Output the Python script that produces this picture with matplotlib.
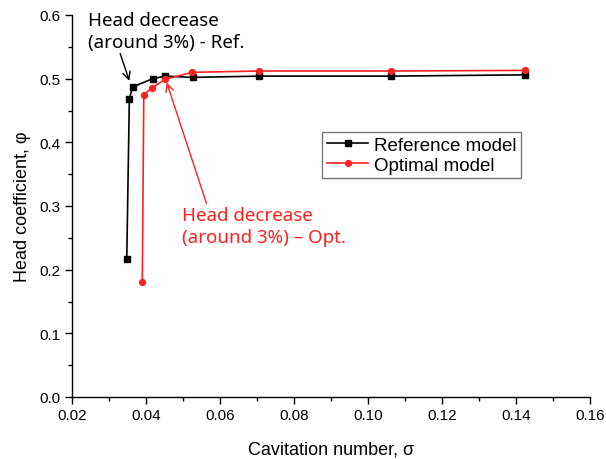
import matplotlib
matplotlib.use('Agg')
from matplotlib import pyplot as plt
from matplotlib.ticker import MultipleLocator

#%% Data
ref_sigma = [0.0348, 0.0355, 0.0364, 0.0418, 0.0452, 0.0526, 0.0705, 0.1063, 0.1423]
ref_psi   = [0.216, 0.468, 0.487, 0.500, 0.504, 0.502, 0.504, 0.504, 0.506]
opt_sigma = [0.0390, 0.0394, 0.0417, 0.0452, 0.0525, 0.0705, 0.1063, 0.1423]
opt_psi   = [0.180, 0.475, 0.486, 0.499, 0.510, 0.512, 0.512, 0.513]

red = '#ff2020'

#%% Plot
plt.rcParams['font.family'] = ['Liberation Sans', 'DejaVu Sans']
fig = plt.figure(figsize=(6.06, 4.6), dpi=100)
ax = fig.add_axes([72/606, 62/460, 518/606, 382/460])

ax.plot(ref_sigma, ref_psi, c='black', lw=1.2, marker='s', ms=4.2, label='Reference model')
ax.plot(opt_sigma, opt_psi, c=red, lw=1.2, marker='o', ms=4.2, label='Optimal model')

ax.set_xlim(0.02, 0.16)
ax.set_ylim(0.0, 0.6)
ax.xaxis.set_major_locator(MultipleLocator(0.02))
ax.xaxis.set_minor_locator(MultipleLocator(0.01))
ax.yaxis.set_major_locator(MultipleLocator(0.1))
ax.yaxis.set_minor_locator(MultipleLocator(0.05))
ax.xaxis.set_major_formatter(plt.FormatStrFormatter('%.2f'))
ax.yaxis.set_major_formatter(plt.FormatStrFormatter('%.1f'))
ax.tick_params(which='major', direction='out', length=5, width=1, labelsize=11, pad=3)
ax.tick_params(which='minor', direction='out', length=3, width=1)
for s in ['top', 'right']:
	ax.spines[s].set_visible(False)
for s in ['left', 'bottom']:
	ax.spines[s].set_linewidth(1)

ax.set_xlabel('Cavitation number, σ', fontsize=13, labelpad=13)
ax.set_ylabel('Head coefficient, φ', fontsize=13, labelpad=6)

leg = ax.legend(loc='upper left', bbox_to_anchor=(0.483, 0.694), fontsize=13.5, frameon=True,
	fancybox=False, edgecolor='#555555', handlelength=2.2, labelspacing=0.15,
	borderpad=0.25, handletextpad=0.3, borderaxespad=0)
leg.get_frame().set_linewidth(1)

# annotations for the head drop points
ax.annotate('Head decrease\n(around 3%) - Ref.', xy=(0.0355, 0.4966), xytext=(0.0243, 0.607),
	fontsize=13.5, family=['Noto Sans', 'DejaVu Sans'], color='black', ha='left', va='top',
	linespacing=1.3,
	arrowprops=dict(arrowstyle='->', color='black', lw=1, shrinkA=0, shrinkB=0,
		relpos=(0.2, 0.0)))
ax.annotate('Head decrease\n(around 3%) – Opt.', xy=(0.0456, 0.494), xytext=(0.0497, 0.300),
	fontsize=13.5, family=['Noto Sans', 'DejaVu Sans'], color=red, ha='left', va='top',
	linespacing=1.3,
	arrowprops=dict(arrowstyle='->', color=red, lw=1, shrinkA=0, shrinkB=0,
		relpos=(0.155, 1.0)))

fig.savefig('out.png', dpi=100)
